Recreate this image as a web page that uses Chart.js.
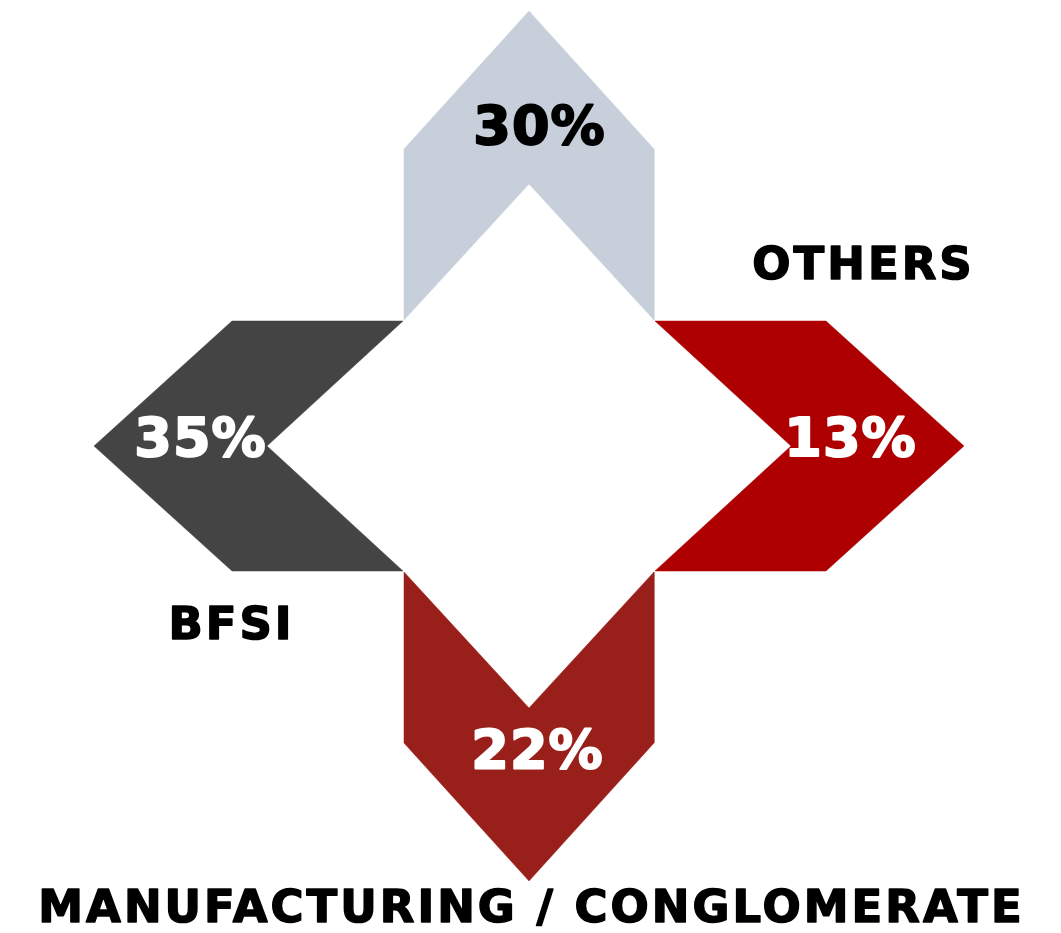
<!DOCTYPE html>
<html>
<head>
<meta charset="utf-8">
<script src="https://cdn.jsdelivr.net/npm/chart.js@4"></script>
<style>
  html, body { margin: 0; padding: 0; background: #ffffff; }
  canvas { display: block; }
</style>
</head>
<body>
<canvas id="chart" width="1061" height="933"></canvas>
<script>
// Data, one arrow per segment (clockwise from the top)
const arrowDirections = ['up', 'right', 'down', 'left'];
const shareValues = [30, 13, 22, 35];
const categoryNames = ['', 'OTHERS', 'MANUFACTURING / CONGLOMERATE', 'BFSI'];

// Styling
const arrowColours = ['#c7d0da', '#ae0000', '#991f1a', '#444444'];
const valueColours = ['#000000', '#ffffff', '#ffffff', '#ffffff'];

// Shared arrow geometry, in chart units measured from the centre of the cross
const centre = { x: 529, y: 446 };
const arrowShape = { base: 126, notch: 262, shoulder: 297, tip: 435, halfWidth: 125 };

// Percentage label placement per direction: distance out from the centre, sideways nudge
const valueLabelPlacement = {
  up: { dist: 318, side: 10 },
  right: { dist: 321, side: -6 },
  down: { dist: 306, side: -8 },
  left: { dist: 329, side: 6 }
};

// Where each category name sits (chart units)
const nameAnchors = {
  'OTHERS': { x: 862, y: 265 },
  'BFSI': { x: 230, y: 625 },
  'MANUFACTURING / CONGLOMERATE': { x: 530, y: 908 }
};

const unitVectors = {
  up: { x: 0, y: -1 },
  right: { x: 1, y: 0 },
  down: { x: 0, y: 1 },
  left: { x: -1, y: 0 }
};

// Build a chevron outline: "along" runs away from the centre, "across" is sideways
function chevronPoints(direction) {
  const d = unitVectors[direction];
  const p = { x: -d.y, y: d.x };
  const s = arrowShape;
  const local = [
    [s.base, -s.halfWidth],
    [s.shoulder, -s.halfWidth],
    [s.tip, 0],
    [s.shoulder, s.halfWidth],
    [s.base, s.halfWidth],
    [s.notch, 0],
    [s.base, -s.halfWidth]
  ];
  return local.map(([along, across]) => ({
    x: centre.x + d.x * along + p.x * across,
    y: centre.y + d.y * along + p.y * across
  }));
}

const datasets = arrowDirections.map((dir, i) => ({
  label: categoryNames[i] || 'Segment ' + (i + 1),
  data: chevronPoints(dir),
  showLine: true,
  fill: 'shape',
  backgroundColor: arrowColours[i],
  borderColor: arrowColours[i],
  borderWidth: 0.5,
  pointRadius: 0,
  tension: 0
}));

// Heavier-looking text: fill plus a thin stroke of the same colour
function boldText(ctx, text, x, y, colour, weight) {
  ctx.fillStyle = colour;
  ctx.strokeStyle = colour;
  ctx.lineWidth = weight;
  ctx.lineJoin = 'round';
  ctx.strokeText(text, x, y);
  ctx.fillText(text, x, y);
}

// Draws the percentage inside each arrow and the category names around the cross
const textLabels = {
  id: 'textLabels',
  afterDatasetsDraw(chart) {
    const ctx = chart.ctx;
    const xs = chart.scales.x;
    const ys = chart.scales.y;
    ctx.save();
    ctx.textAlign = 'center';
    ctx.textBaseline = 'middle';

    ctx.font = 'bold 54px "DejaVu Sans"';
    ctx.letterSpacing = '1px';
    arrowDirections.forEach((dir, i) => {
      const d = unitVectors[dir];
      const pl = valueLabelPlacement[dir];
      const px = xs.getPixelForValue(centre.x + d.x * pl.dist - d.y * pl.side);
      const py = ys.getPixelForValue(centre.y + d.y * pl.dist + d.x * pl.side);
      boldText(ctx, shareValues[i] + '%', px + 0.5, py + 2, valueColours[i], 2);
    });

    ctx.font = 'bold 45px "DejaVu Sans"';
    ctx.letterSpacing = '3px';
    categoryNames.forEach(name => {
      if (!name) return;
      const a = nameAnchors[name];
      boldText(ctx, name, xs.getPixelForValue(a.x) + 1.5, ys.getPixelForValue(a.y) + 2, '#000000', 1.5);
    });
    ctx.restore();
  }
};

new Chart(document.getElementById('chart').getContext('2d'), {
  type: 'scatter',
  data: { datasets: datasets },
  options: {
    responsive: false,
    animation: false,
    layout: { padding: 0 },
    plugins: {
      legend: { display: false },
      tooltip: { enabled: false }
    },
    scales: {
      x: { type: 'linear', min: 0, max: 1061, display: false },
      y: { type: 'linear', min: 0, max: 933, reverse: true, display: false }
    }
  },
  plugins: [textLabels]
});
</script>
</body>
</html>
